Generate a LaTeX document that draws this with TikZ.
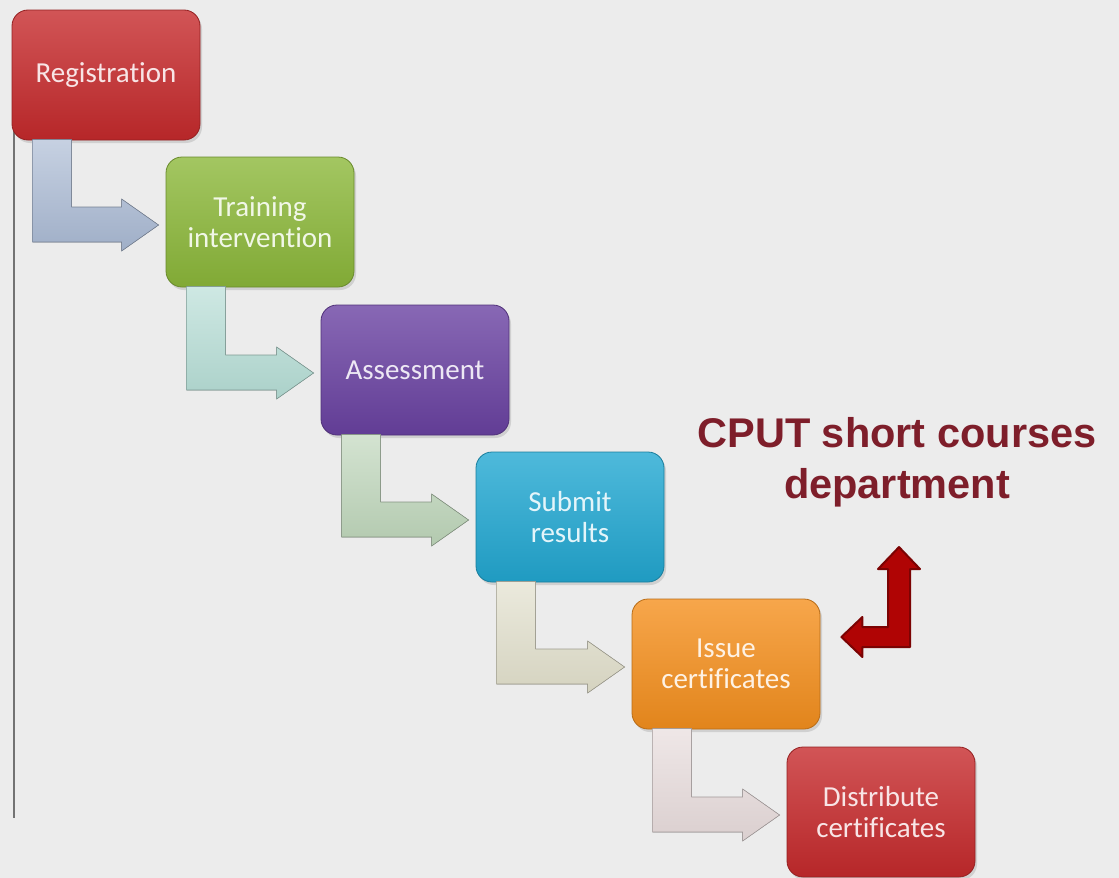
\documentclass[tikz,border=0pt]{standalone}
\usepackage{fontspec}
\setmainfont{Carlito}[Ligatures=NoCommon]
\newfontfamily\headfont{Liberation Sans}
\usepackage{xcolor}
\usetikzlibrary{calc,shadows}

\definecolor{paper}{HTML}{ECECEC}
\definecolor{regred}{HTML}{C62A2C}
\definecolor{traingreen}{HTML}{8CB83A}
\definecolor{assesspurple}{HTML}{6A42A2}
\definecolor{submitcyan}{HTML}{22A8D2}
\definecolor{issueorange}{HTML}{F5901E}
\definecolor{cputred}{HTML}{7E1E2A}
\definecolor{backred}{HTML}{B00404}
\definecolor{bendblue}{HTML}{A8B8D2}
\definecolor{bendteal}{HTML}{B4DCD4}
\definecolor{bendsage}{HTML}{BCD4B8}
\definecolor{bendcream}{HTML}{E0DECA}
\definecolor{bendrose}{HTML}{E6DADA}

\tikzset{
  stepbox/.style={rounded corners=16pt, minimum width=188pt, minimum height=130pt,
    inner sep=0pt, align=center, font=\fontsize{29}{31}\selectfont,
    top color=#1!80!white, bottom color=#1!92!black, draw=#1!75!black, line width=0.8pt,
    text=white!88!#1, drop shadow={opacity=0.25, shadow xshift=2pt, shadow yshift=-3pt}},
  bendfill/.style={top color=white!35!#1, bottom color=#1!95!black, draw=#1!70!black, line width=0.6pt}
}

% bent arrow from the lower left of one box to the west side of the next
\newcommand{\bentarrow}[3]{%
  \filldraw[bendfill=#3]
    ($(#1.south west)+(21,-1)$) -- ($(#1.south west)+(60,-1)$)
    -- ($(#1.south west |- #2.west)+(60,-15)$) -- ($(#2.west)+(-44,-15)$)
    -- ($(#2.west)+(-44,-23)$) -- ($(#2.west)+(-7,3)$)
    -- ($(#2.west)+(-44,29)$) -- ($(#2.west)+(-44,20)$)
    -- ($(#1.south west |- #2.west)+(21,20)$) -- cycle;}

\begin{document}
\begin{tikzpicture}[x=1pt,y=-1pt]
\useasboundingbox (0,0) rectangle (1119,878);
\fill[paper] (0,0) rectangle (1119,878);
\draw[gray!90!black, line width=2.8pt] (14,20) -- (14,818);

% the six steps
\node[stepbox=regred] (reg) at (106,75) {Registration};
\node[stepbox=traingreen] (train) at (260,222) {Training\\intervention};
\node[stepbox=assesspurple] (assess) at (415,370) {Assessment};
\node[stepbox=submitcyan] (submit) at (570,517) {Submit\\results};
\node[stepbox=issueorange] (issue) at (726,664) {Issue\\certificates};
\node[stepbox=regred] (distr) at (881,812) {Distribute\\certificates};

\bentarrow{reg}{train}{bendblue}
\bentarrow{train}{assess}{bendteal}
\bentarrow{assess}{submit}{bendsage}
\bentarrow{submit}{issue}{bendcream}
\bentarrow{issue}{distr}{bendrose}

% department label and its arrow
\node[font=\headfont\bfseries\fontsize{41.5}{51}\selectfont, text=cputred, align=center, inner sep=0pt]
  (cput) at (897,462) {CPUT short courses\\department};
\coordinate (up) at ($(cput.south)+(2,40)$);
\coordinate (lt) at ($(issue.east)+(21,-27)$);
\filldraw[fill=backred, draw=backred!70!black, line width=2pt, line join=round]
  (up) -- ($(up)+(21,22)$) -- ($(up)+(11,22)$) -- ($(up |- lt)+(11,10)$)
  -- ($(lt)+(21,10)$) -- ($(lt)+(21,20)$) -- (lt) -- ($(lt)+(21,-20)$)
  -- ($(lt)+(21,-10)$) -- ($(up |- lt)+(-11,-10)$) -- ($(up)+(-11,22)$)
  -- ($(up)+(-21,22)$) -- cycle;
\end{tikzpicture}
\end{document}
